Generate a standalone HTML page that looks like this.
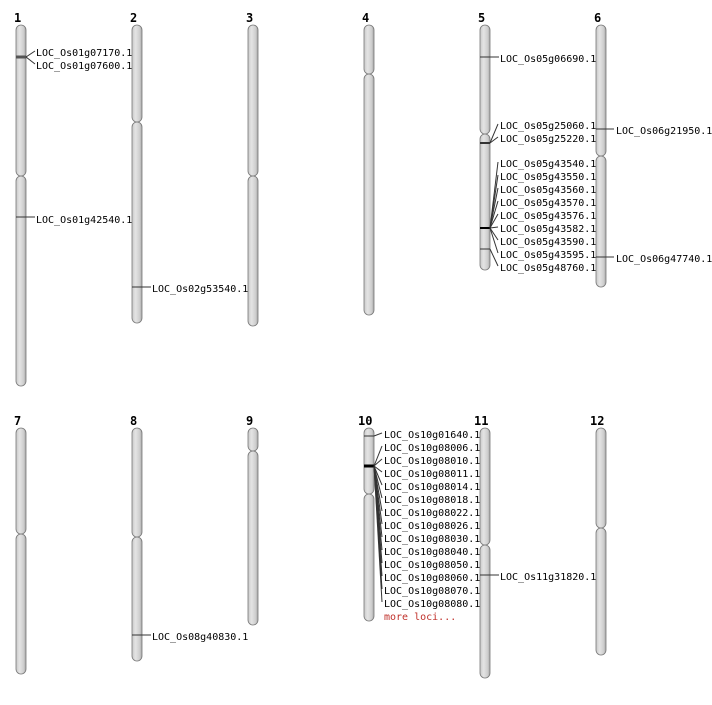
<!DOCTYPE html>
<html><head><meta charset="utf-8"><style>
html,body{margin:0;padding:0;background:#fff;}
svg text{font-family:"DejaVu Sans Mono","Liberation Mono",monospace;font-size:10px;fill:#000;}
svg text.n{font-family:"DejaVu Sans Mono","Liberation Mono",monospace;font-weight:bold;font-size:12px;}
</style></head><body>
<svg width="712" height="700" xmlns="http://www.w3.org/2000/svg">
<defs>
<linearGradient id="g" x1="0" x2="1" y1="0" y2="0">
<stop offset="0" stop-color="#c8c8c8"/><stop offset="0.35" stop-color="#e4e4e4"/><stop offset="0.75" stop-color="#cfcfcf"/><stop offset="1" stop-color="#a8a8a8"/>
</linearGradient>
</defs>
<g stroke="#777" stroke-width="0.8" fill="url(#g)">
<!-- row 1 -->
<rect x="16" y="25" width="10" height="151" rx="5"/><rect x="16" y="176" width="10" height="210" rx="5"/>
<rect x="132" y="25" width="10" height="97" rx="5"/><rect x="132" y="122" width="10" height="201" rx="5"/>
<rect x="248" y="25" width="10" height="151" rx="5"/><rect x="248" y="176" width="10" height="150" rx="5"/>
<rect x="364" y="25" width="10" height="49" rx="5"/><rect x="364" y="74" width="10" height="241" rx="5"/>
<rect x="480" y="25" width="10" height="109" rx="5"/><rect x="480" y="134" width="10" height="136" rx="5"/>
<rect x="596" y="25" width="10" height="131" rx="5"/><rect x="596" y="156" width="10" height="131" rx="5"/>
<!-- row 2 -->
<rect x="16" y="428" width="10" height="106" rx="5"/><rect x="16" y="534" width="10" height="140" rx="5"/>
<rect x="132" y="428" width="10" height="109" rx="5"/><rect x="132" y="537" width="10" height="124" rx="5"/>
<rect x="248" y="428" width="10" height="23" rx="5"/><rect x="248" y="451" width="10" height="174" rx="5"/>
<rect x="364" y="428" width="10" height="66" rx="5"/><rect x="364" y="494" width="10" height="127" rx="5"/>
<rect x="480" y="428" width="10" height="117" rx="5"/><rect x="480" y="545" width="10" height="133" rx="5"/>
<rect x="596" y="428" width="10" height="100" rx="5"/><rect x="596" y="528" width="10" height="127" rx="5"/>
</g>
<g>
<text class="n" x="14" y="22">1</text><text class="n" x="130" y="22">2</text><text class="n" x="246" y="22">3</text>
<text class="n" x="362" y="22">4</text><text class="n" x="478" y="22">5</text><text class="n" x="594" y="22">6</text>
<text class="n" x="14" y="425">7</text><text class="n" x="130" y="425">8</text><text class="n" x="246" y="425">9</text>
<text class="n" x="358" y="425">10</text><text class="n" x="474" y="425">11</text><text class="n" x="590" y="425">12</text>
</g>
<g stroke="#333" stroke-width="1" fill="none">
<!-- chr1 -->
<line x1="16" y1="57" x2="26" y2="57" stroke-width="3" stroke="#555"/>
<polyline points="26,57 35,51"/><polyline points="26,57 35,64"/>
<line x1="16" y1="217" x2="35" y2="217"/>
<!-- chr2 -->
<line x1="132" y1="287" x2="151" y2="287"/>
<!-- chr5 -->
<line x1="480" y1="57" x2="499" y2="57"/>
<line x1="480" y1="143" x2="490" y2="143" stroke-width="2"/>
<polyline points="490,143 498,124"/><polyline points="490,143 498,137"/>
<line x1="480" y1="228" x2="490" y2="228" stroke-width="2" stroke="#000"/>
<polyline points="490,228 498,162"/><polyline points="490,228 498,175"/><polyline points="490,228 498,188"/><polyline points="490,228 498,201"/>
<polyline points="490,228 498,214"/><polyline points="490,228 498,227"/><polyline points="490,228 498,240"/><polyline points="490,228 498,253"/>
<line x1="480" y1="249" x2="490" y2="249"/><polyline points="490,249 498,266"/>
<!-- chr6 -->
<line x1="596" y1="129" x2="614" y2="129"/>
<line x1="596" y1="257" x2="614" y2="257"/>
<!-- chr8 -->
<line x1="132" y1="635" x2="151" y2="635"/>
<!-- chr10 -->
<line x1="364" y1="436" x2="374" y2="436"/><polyline points="374,436 382,433"/>
<line x1="364" y1="466" x2="374" y2="466" stroke-width="3" stroke="#000"/>
<polyline points="374,466 382,446"/><polyline points="374,466 382,459"/><polyline points="374,466 382,472"/><polyline points="374,466 382,485"/>
<polyline points="374,466 382,498"/><polyline points="374,466 382,511"/><polyline points="374,466 382,524"/><polyline points="374,466 382,537"/>
<polyline points="374,466 382,550"/><polyline points="374,466 382,563"/><polyline points="374,466 382,576"/><polyline points="374,466 382,589"/>
<polyline points="374,466 382,602"/>
<!-- chr11 -->
<line x1="480" y1="575" x2="499" y2="575"/>
</g>
<g>
<text x="36" y="56">LOC_Os01g07170.1</text><text x="36" y="69">LOC_Os01g07600.1</text>
<text x="36" y="223">LOC_Os01g42540.1</text>
<text x="152" y="292">LOC_Os02g53540.1</text>
<text x="500" y="62">LOC_Os05g06690.1</text>
<text x="500" y="129">LOC_Os05g25060.1</text><text x="500" y="142">LOC_Os05g25220.1</text>
<text x="500" y="167">LOC_Os05g43540.1</text><text x="500" y="180">LOC_Os05g43550.1</text><text x="500" y="193">LOC_Os05g43560.1</text>
<text x="500" y="206">LOC_Os05g43570.1</text><text x="500" y="219">LOC_Os05g43576.1</text><text x="500" y="232">LOC_Os05g43582.1</text>
<text x="500" y="245">LOC_Os05g43590.1</text><text x="500" y="258">LOC_Os05g43595.1</text><text x="500" y="271">LOC_Os05g48760.1</text>
<text x="616" y="134">LOC_Os06g21950.1</text><text x="616" y="262">LOC_Os06g47740.1</text>
<text x="152" y="640">LOC_Os08g40830.1</text>
<text x="384" y="438">LOC_Os10g01640.1</text><text x="384" y="451">LOC_Os10g08006.1</text><text x="384" y="464">LOC_Os10g08010.1</text>
<text x="384" y="477">LOC_Os10g08011.1</text><text x="384" y="490">LOC_Os10g08014.1</text><text x="384" y="503">LOC_Os10g08018.1</text>
<text x="384" y="516">LOC_Os10g08022.1</text><text x="384" y="529">LOC_Os10g08026.1</text><text x="384" y="542">LOC_Os10g08030.1</text>
<text x="384" y="555">LOC_Os10g08040.1</text><text x="384" y="568">LOC_Os10g08050.1</text><text x="384" y="581">LOC_Os10g08060.1</text>
<text x="384" y="594">LOC_Os10g08070.1</text><text x="384" y="607">LOC_Os10g08080.1</text>
<text x="384" y="620" style="fill:#c0302a">more loci...</text>
<text x="500" y="580">LOC_Os11g31820.1</text>
</g>
</svg>
</body></html>
